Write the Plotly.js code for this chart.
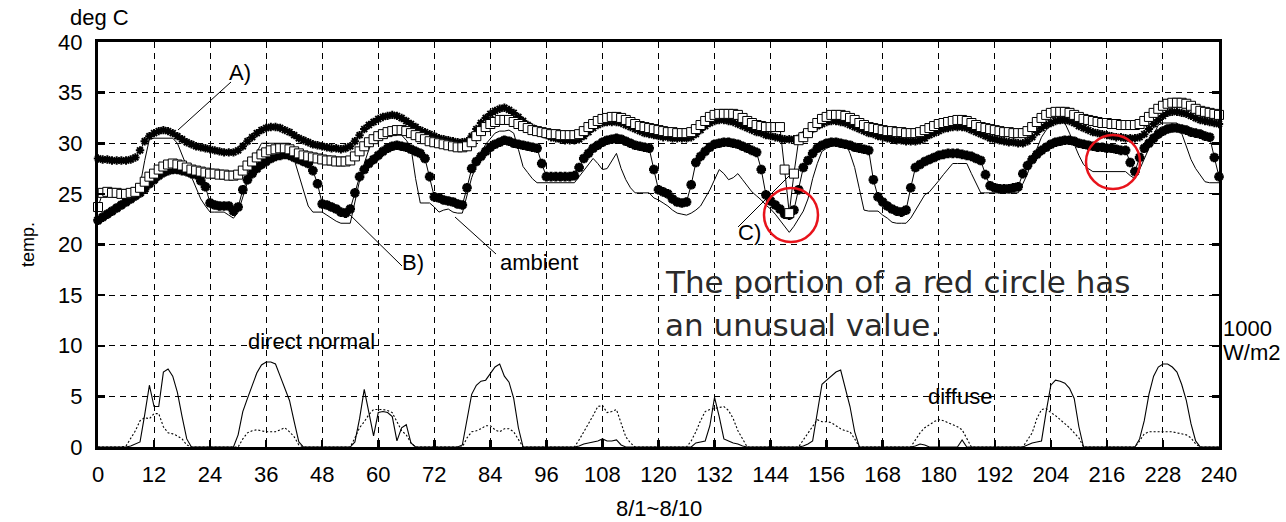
<!DOCTYPE html>
<html>
<head>
<meta charset="utf-8">
<script src="https://cdn.plot.ly/plotly-3.0.1.min.js"></script>
<style>
html,body{margin:0;padding:0;background:#fff;}
#chart{width:1286px;height:522px;}
</style>
</head>
<body>
<div id="chart"></div>
<script>
// ---- data (hourly, 8/1 0h .. 8/10 24h) ----
const hours = Array.from({length: 241}, (_, i) => i);
const xTicks = [0,12,24,36,48,60,72,84,96,108,120,132,144,156,168,180,192,204,216,228,240];
const yTicks = [0,5,10,15,20,25,30,35,40];

// A) upper series (deg C)
const seriesA = [
28.5,28.4,28.4,28.3,28.3,28.3,28.3,28.4,28.6,29.3,30.2,30.7,
31.0,31.2,31.3,31.2,31.0,30.7,30.4,30.1,29.9,29.7,29.6,29.5,
29.4,29.3,29.2,29.1,29.1,29.1,29.3,29.7,30.2,30.6,31.0,31.3,
31.5,31.6,31.6,31.5,31.3,31.1,30.8,30.5,30.3,30.1,29.9,29.8,
29.7,29.6,29.5,29.5,29.4,29.5,29.7,30.2,30.8,31.4,31.8,32.1,
32.4,32.6,32.7,32.8,32.7,32.5,32.2,31.9,31.6,31.3,31.1,30.9,
30.7,30.5,30.4,30.3,30.2,30.1,30.1,30.2,30.7,31.4,32.0,32.5,
32.9,33.2,33.4,33.5,33.3,33.0,32.6,32.2,31.8,31.5,31.2,31.0,
30.8,30.6,30.5,30.4,30.3,30.3,30.3,30.4,30.7,31.1,31.5,31.8,
32.0,32.1,32.1,32.1,32.0,31.8,31.6,31.4,31.2,31.0,30.9,30.8,
30.7,30.6,30.6,30.5,30.5,30.5,30.5,30.6,30.9,31.3,31.7,32.0,
32.2,32.3,32.3,32.2,32.1,31.9,31.7,31.5,31.3,31.1,31.0,30.8,
30.7,30.6,30.5,30.4,30.4,30.4,30.5,30.8,31.1,31.4,31.7,31.9,
32.1,32.2,32.2,32.1,32.0,31.8,31.6,31.4,31.2,31.0,30.9,30.7,
30.6,30.5,30.4,30.3,30.3,30.2,30.2,30.2,30.3,30.5,30.8,31.0,
31.2,31.4,31.5,31.6,31.6,31.6,31.5,31.3,31.1,30.9,30.7,30.5,
30.4,30.3,30.2,30.1,30.1,30.0,30.0,30.2,30.6,31.1,31.5,31.8,
32.0,32.2,32.3,32.3,32.2,32.0,31.7,31.5,31.3,31.1,31.0,30.9,
30.8,30.7,30.6,30.6,30.5,30.5,30.5,30.6,30.9,31.4,31.9,32.3,
32.7,33.0,33.1,33.1,33.0,32.9,32.7,32.5,32.3,32.2,32.1,32.0,
31.9];

// B) square series (deg C)
const seriesB = [
23.7,25.1,25.2,25.1,25.1,25.0,25.0,25.1,25.2,25.6,26.2,26.7,
27.0,27.4,27.7,27.9,28.0,27.9,27.8,27.6,27.4,27.3,27.2,27.1,
27.0,27.0,26.9,26.9,26.8,26.8,26.9,27.3,27.8,28.2,28.6,28.9,
29.1,29.3,29.4,29.5,29.5,29.4,29.2,29.0,28.8,28.7,28.6,28.5,
28.4,28.3,28.3,28.2,28.2,28.2,28.3,28.7,29.2,29.7,30.1,30.4,
30.7,30.9,31.1,31.2,31.3,31.3,31.2,31.0,30.8,30.6,30.4,30.2,
30.1,30.0,29.9,29.8,29.7,29.6,29.6,29.7,30.1,30.7,31.2,31.6,
31.9,32.1,32.3,32.3,32.3,32.1,31.9,31.7,31.5,31.3,31.2,31.1,
31.0,30.9,30.9,30.8,30.8,30.8,30.8,30.9,31.2,31.6,31.9,32.2,
32.4,32.5,32.6,32.6,32.5,32.3,32.1,31.9,31.7,31.6,31.5,31.4,
31.3,31.2,31.1,31.1,31.0,31.0,31.0,31.1,31.4,31.8,32.2,32.6,
32.8,32.9,32.9,32.9,32.9,32.8,32.5,32.2,32.0,31.8,31.7,31.6,
31.6,31.6,31.6,27.4,23.1,27.0,30.3,30.6,31.0,31.6,32.0,32.4,
32.6,32.8,32.8,32.8,32.7,32.5,32.3,32.0,31.8,31.6,31.5,31.4,
31.3,31.2,31.2,31.1,31.1,31.0,31.0,31.0,31.1,31.3,31.5,31.7,
31.9,32.0,32.1,32.2,32.3,32.3,32.2,32.0,31.8,31.6,31.5,31.4,
31.3,31.2,31.1,31.1,31.0,31.0,31.0,31.2,31.6,32.1,32.5,32.8,
33.0,33.1,33.1,33.1,33.0,32.8,32.6,32.4,32.3,32.2,32.1,32.0,
32.0,31.9,31.9,31.8,31.8,31.8,31.8,31.9,32.2,32.6,33.0,33.4,
33.7,33.9,34.0,34.0,34.0,33.9,33.7,33.4,33.2,33.1,33.0,32.9,
32.8];

// C) lower series (deg C)
const seriesC = [
22.4,22.7,23.0,23.3,23.6,23.9,24.2,24.5,24.8,25.1,25.5,26.0,
26.4,26.8,27.1,27.3,27.4,27.4,27.3,27.2,27.0,26.9,26.3,25.7,
24.1,23.9,23.8,23.8,23.8,23.3,23.7,25.4,26.4,27.0,27.5,27.9,
28.2,28.5,28.7,28.8,28.9,28.8,28.6,28.4,28.2,28.0,27.3,26.0,
24.0,23.9,23.7,23.5,23.2,23.1,23.5,25.1,26.7,27.4,28.0,28.4,
28.8,29.2,29.5,29.7,29.8,29.7,29.6,29.4,29.2,29.0,28.5,26.7,
24.7,24.6,24.4,24.3,24.2,24.0,23.9,25.6,27.5,28.2,28.7,29.2,
29.6,29.9,30.1,30.3,30.2,30.0,29.9,29.8,29.7,29.6,29.5,28.0,
26.7,26.7,26.7,26.7,26.7,26.7,26.8,27.6,28.5,29.0,29.5,29.8,
30.1,30.3,30.4,30.5,30.4,30.2,30.0,29.8,29.7,29.6,29.5,27.4,
25.4,25.2,25.0,24.5,24.2,24.1,24.2,25.9,28.1,28.7,29.2,29.6,
29.9,30.0,30.1,30.1,30.0,29.9,29.7,29.5,29.3,29.1,27.4,24.9,
24.3,23.9,23.5,23.0,22.9,23.4,25.4,27.6,28.3,29.0,29.5,29.8,
30.0,30.1,30.1,30.0,29.9,29.8,29.6,29.5,29.4,29.3,26.4,24.7,
24.2,23.8,23.5,23.3,23.2,23.4,25.6,27.6,27.9,28.2,28.4,28.6,
28.8,28.9,29.0,29.0,29.0,28.9,28.8,28.7,28.5,28.3,26.9,25.8,
25.6,25.5,25.5,25.5,25.6,25.7,27.0,27.8,28.4,28.9,29.3,29.6,
29.9,30.1,30.2,30.3,30.3,30.2,30.0,29.9,29.8,29.7,29.6,29.6,
29.5,29.5,29.4,29.3,29.3,28.1,27.2,28.6,29.5,30.0,30.5,30.9,
31.2,31.4,31.5,31.5,31.4,31.3,31.1,31.0,30.9,30.7,30.6,28.6,
26.7];

// ambient temperature (deg C)
const ambient = [
22.5,22.8,23.1,23.4,23.7,24.0,24.3,24.6,25.0,25.8,28.3,30.4,
30.5,30.5,30.5,30.5,30.5,30.0,28.8,27.7,26.7,25.6,24.5,23.8,
23.2,23.2,23.2,23.2,22.9,22.6,23.2,24.7,26.2,27.6,29.1,30.0,
30.0,30.0,30.0,30.0,30.0,30.0,28.4,26.8,25.3,23.8,23.2,23.2,
23.2,22.9,22.6,22.3,22.1,22.1,22.1,24.2,26.3,28.0,29.4,30.5,
30.7,30.8,30.8,30.8,30.8,30.8,30.3,29.6,26.5,24.1,24.1,24.1,
23.7,23.2,23.4,23.5,23.2,23.1,23.1,24.9,26.6,27.8,29.0,29.9,
30.5,31.0,31.2,31.2,31.3,31.0,29.4,27.7,27.1,26.5,26.1,26.1,
26.1,26.1,26.1,26.1,26.1,26.1,26.1,26.7,27.3,27.9,28.5,28.0,
27.4,27.5,28.2,29.0,27.5,26.4,25.6,25.1,25.1,25.1,25.1,24.6,
24.4,24.1,23.8,23.4,23.1,23.0,22.9,23.1,23.4,23.8,24.6,25.4,
26.4,27.4,27.0,26.4,26.6,27.0,26.4,25.8,25.2,24.8,24.4,23.9,
23.5,23.0,22.4,21.8,21.2,21.8,22.6,23.3,24.5,26.5,28.0,29.2,
29.5,29.7,29.9,30.0,30.1,29.0,27.6,25.5,23.4,23.3,23.3,23.3,
22.9,22.6,22.2,22.1,22.1,22.1,22.6,23.4,24.2,24.9,25.2,25.7,
26.3,26.9,27.5,28.0,28.0,28.0,28.0,27.0,26.0,25.1,25.1,25.1,
25.1,25.1,25.1,25.1,25.1,25.1,26.0,27.0,28.3,29.5,30.6,31.3,
31.8,32.0,32.0,32.0,31.0,29.8,28.8,27.9,27.5,27.2,27.2,27.2,
27.2,27.2,27.2,27.2,27.2,26.8,26.5,27.4,28.4,29.5,30.8,31.8,
32.0,32.0,32.0,32.0,31.0,29.8,28.4,27.5,26.8,26.2,26.1,26.1,
26.1];

// direct normal irradiance (x100 W/m2, 10 = 1000 W/m2)
const directNormal = [
0,0,0,0,0,0,0,0.1,0.3,0.5,3.2,6.1,
4.0,4.0,7.4,7.7,7.0,5.4,3.0,0.8,0,0,0,0,
0,0,0,0,0,0,1.2,3.5,4.8,6.1,7.3,8.1,
8.4,8.4,8.2,7.0,5.7,4.6,2.5,0.5,0,0,0,0,
0,0,0,0,0,0,0,0.5,2.8,5.7,3.5,1.1,
3.4,3.5,3.4,3.0,0.6,1.9,2.2,0.4,0,0,0,0,
0,0,0,0,0,0,0.2,2.8,5.2,6.1,6.5,6.6,
7.2,7.9,8.2,7.0,6.4,4.8,1.9,0,0,0,0,0,
0,0,0,0,0,0,0,0.1,0.3,0.4,0.5,0.6,
0.8,0.6,0.6,0.7,0.2,0,0,0,0,0,0,0,
0,0,0,0,0,0,0,0,0.4,0.5,0.6,2.1,
4.9,3.0,0.8,0.6,0.4,0.3,0.1,0,0,0,0,0,
0,0,0,0,0,0,0,0.1,0.3,0.6,3.5,6.2,
6.6,7.0,7.4,7.6,5.9,4.0,1.5,0,0,0,0,0,
0,0,0,0,0,0,0,0.1,0.3,0.2,0,0,
0,0,0,0,0,0.7,0,0,0,0,0,0,
0,0,0,0,0,0,0,0.2,0.4,0.5,0.6,3.5,
6.1,6.6,6.5,6.3,5.8,4.8,2.0,0,0,0,0,0,
0,0,0,0,0,0,0,0.8,2.6,5.2,7.0,7.9,
8.2,8.2,7.9,7.4,6.2,4.6,2.3,0.6,0,0,0,0,
0];

// diffuse irradiance (x100 W/m2)
const diffuse = [
0,0,0,0,0,0,0.1,0.9,1.6,2.6,2.9,2.8,
3.3,3.3,2.0,1.4,1.3,1.1,0.8,0.2,0,0,0,0,
0,0,0,0,0,0,0,0.8,1.4,1.6,1.7,1.6,
1.5,1.5,1.5,1.7,1.9,1.5,1.0,0.2,0,0,0,0,
0,0,0,0,0,0,0,0.9,1.9,2.5,3.2,3.7,
3.7,3.7,3.6,3.4,2.5,1.6,1.2,0.4,0,0,0,0,
0,0,0,0,0,0,0,0.9,1.5,1.6,1.8,2.1,
2.1,1.7,1.5,1.8,1.8,1.5,0.8,0,0,0,0,0,
0,0,0,0,0,0,0,0.7,1.5,2.2,3.1,4.0,
4.1,3.4,3.5,3.7,2.3,1.0,0.4,0,0,0,0,0,
0,0,0,0,0,0,0,0.6,1.5,2.6,3.5,3.7,
3.8,3.9,4.0,3.6,2.8,1.6,0.8,0,0,0,0,0,
0,0,0,0,0,0,0,0.7,1.4,2.1,2.7,2.5,
2.5,2.4,2.1,1.8,1.6,1.5,0.8,0,0,0,0,0,
0,0,0,0,0,0,0,0.7,1.4,1.9,2.2,2.5,
2.7,2.6,2.4,2.2,2.0,1.7,0.8,0,0,0,0,0,
0,0,0,0,0,0,0,0.7,1.4,2.8,3.7,3.8,
3.4,3.1,2.7,2.3,1.9,1.4,0.9,0,0,0,0,0,
0,0,0,0,0,0,0,0.6,1.3,1.5,1.5,1.5,
1.5,1.5,1.5,1.4,1.3,1.2,0.9,0.3,0,0,0,0,
0];

// ---- geometry helpers (pixel -> paper) ----
const PL = 98, PR = 1219, PT = 42, PB = 447;
const toPx = x => (x - PL) / (PR - PL);
const toPy = y => (PB - y) / (PB - PT);
const hx = x => (x - PL) / (PR - PL) * 240;
const vy = y => (PB - y) / (PB - PT) * 40;

const FONT = '"Liberation Sans", Arial, sans-serif';
const BIG = '"DejaVu Sans", "Open Sans", sans-serif';
const line = (y, name, extra) => Object.assign({
  x: hours, y: y, name: name, type: 'scatter', mode: 'lines',
  line: {color: '#000', width: 1}, cliponaxis: false, hoverinfo: 'skip'
}, extra || {});

const traces = [
  line(directNormal, 'direct normal', {line: {color: '#000', width: 1.1}}),
  line(diffuse, 'diffuse', {line: {color: '#000', width: 1.1, dash: '2px,2px'}}),
  line(ambient, 'ambient', {line: {color: '#000', width: 1}}),
  line(seriesC, 'C)', {mode: 'lines+markers',
     marker: {symbol: 'asterisk-open', size: 8, color: '#000', line: {color: '#000', width: 3}}}),
  line(seriesA, 'A)', {mode: 'lines+markers',
     marker: {symbol: 'asterisk-open', size: 7, color: '#000', line: {color: '#000', width: 2}}}),
  line(seriesB, 'B)', {mode: 'lines+markers',
     marker: {symbol: 'square', size: 9, color: '#fff', line: {color: '#000', width: 1}}})
];

function txt(x, y, text, size, extra) {
  return Object.assign({xref: 'paper', yref: 'paper', x: toPx(x), y: toPy(y), text: text,
    showarrow: false, xanchor: 'center', yanchor: 'middle',
    font: {family: FONT, size: size, color: '#000'}}, extra || {});
}

const annotations = [
  txt(99, 18, 'deg C', 22),
  txt(28, 245, 'temp.', 18, {textangle: -90}),
  txt(659, 509, '8/1~8/10', 22),
  txt(240, 73, 'A)', 22),
  txt(413, 262, 'B)', 22),
  txt(539, 262, 'ambient', 22),
  txt(749, 232, 'C)', 22),
  txt(311, 341, 'direct normal', 22),
  txt(960, 396, 'diffuse', 22),
  txt(1247, 328, '1000', 22),
  txt(1251, 352, 'W/m2', 22),
  txt(663, 282, 'The portion of a red circle has', 31,
      {xanchor: 'left', font: {family: BIG, size: 31, color: '#2a2a2a'}}),
  txt(663, 325, 'an unusual value.', 31,
      {xanchor: 'left', font: {family: BIG, size: 31, color: '#2a2a2a'}})
];

function seg(x0, y0, x1, y1) {
  return {type: 'line', xref: 'x', yref: 'y', x0: hx(x0), y0: vy(y0), x1: hx(x1), y1: vy(y1),
          line: {color: '#000', width: 1}, layer: 'above'};
}
function ring(cx, cy) {
  return {type: 'circle', xref: 'x', yref: 'y', xsizemode: 'pixel', ysizemode: 'pixel',
          xanchor: hx(cx), yanchor: vy(cy), x0: -27, x1: 27, y0: -27, y1: 27,
          line: {color: '#e8131b', width: 2.5}, layer: 'above'};
}

const shapes = [
  seg(231, 82, 178, 130),
  seg(345, 210, 402, 266),
  seg(455, 217, 496, 254),
  seg(738, 227, 789, 176),
  ring(791, 215),
  ring(1113, 162)
];

const axisCommon = {
  showline: true, linecolor: '#000', linewidth: 3,
  ticks: 'inside', ticklen: 7, tickwidth: 2.5, tickcolor: '#000',
  showgrid: true, gridcolor: '#000', gridwidth: 1.1, griddash: '6px,5px',
  zeroline: false, tickfont: {family: FONT, size: 22, color: '#000'}
};

const layout = {
  width: 1286, height: 522,
  margin: {l: PL, r: 1286 - PR, t: PT, b: 522 - PB, pad: 0},
  paper_bgcolor: '#fff', plot_bgcolor: '#fff',
  showlegend: false,
  xaxis: Object.assign({}, axisCommon, {range: [0, 240], tickvals: xTicks, ticktext: xTicks.map(String),
     mirror: true, ticklabelstandoff: 6}),
  yaxis: Object.assign({}, axisCommon, {range: [0, 40], tickvals: yTicks, ticktext: yTicks.map(String),
     mirror: 'ticks', ticklabelstandoff: 8}),
  annotations: annotations,
  shapes: shapes
};

Plotly.newPlot('chart', traces, layout, {staticPlot: true, displayModeBar: false});
</script>
</body>
</html>
